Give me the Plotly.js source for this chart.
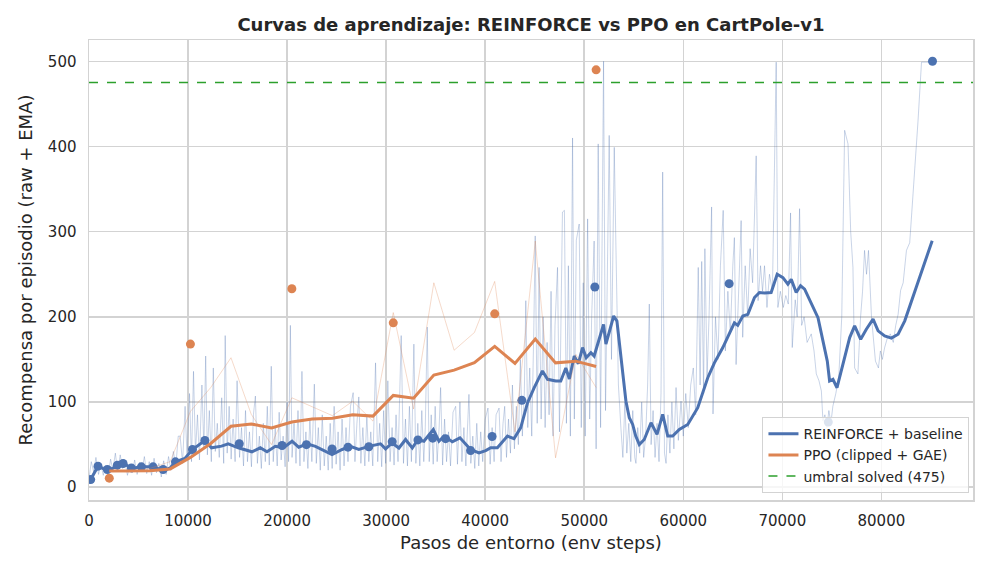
<!DOCTYPE html>
<html>
<head>
<meta charset="utf-8">
<script src="https://cdn.plot.ly/plotly-3.0.1.min.js"></script>
<style>
  body { margin: 0; background: #fff; }
  #chart { width: 990px; height: 572px; }
</style>
</head>
<body>
<div id="chart"></div>
<script>
// REINFORCE: recompensa por episodio (raw), [paso, recompensa]
var reinforceRaw = [
  [20,12],[230,30],[470,18],[700,35],[960,15],[1190,28],[1440,14],[1680,25],[1930,12],[2180,33],
  [2410,20],[2660,40],[2900,18],[3150,38],[3390,22],[3640,30],[3880,14],[4120,26],[4370,17],[4610,32],
  [4860,15],[5100,29],[5340,19],[5590,36],[5830,16],[6080,30],[6320,14],[6570,34],[6810,17],[7050,28],
  [7300,12],[7540,31],[7790,15],[8030,36],[8280,20],[8520,42],[8770,25],[9010,60],
  [9200,60],[9450,28],[9700,95],[9900,35],[10150,110],[10350,30],[10550,136],[10750,40],[10950,85],[11150,32],
  [11400,120],[11600,45],[11780,154],[11950,38],[12150,90],[12350,30],[12550,140],[12750,42],[12950,75],[13150,35],
  [13400,105],[13600,28],[13750,178],[13950,40],[14150,95],[14350,33],[14550,80],[14750,30],[14950,125],
  [15200,35],[15400,70],[15600,25],[15800,90],[16000,30],[16200,65],[16400,24],[16600,85],[16800,107],[17000,28],
  [17200,60],[17400,22],[17600,75],[17800,30],[18000,95],[18200,26],[18400,142],[18600,30],[18800,70],[19000,25],
  [19200,88],[19400,32],[19600,60],[19800,24],[20000,100],[20150,30],[20330,190],[20500,35],[20700,75],[20900,28],
  [21100,90],[21300,25],[21500,136],[21700,30],[21900,65],[22100,22],[22300,80],[22500,30],[22750,121],[22950,28],
  [23150,70],[23350,20],[23550,85],[23750,25],[23950,60],[24150,20],[24350,75],[24550,22],[24750,95],[24950,27],
  [25150,65],[25350,20],[25550,80],[25750,25],[25950,70],[26150,30],[26400,95],[26670,111],[26850,30],[27050,75],
  [27240,106],[27450,28],[27650,70],[27850,25],[28050,85],[28250,30],[28450,65],[28650,25],[28930,146],[29150,30],
  [29350,75],[29550,24],[29750,90],[29950,28],[30170,125],[30400,30],[30600,70],[30800,26],[31000,85],[31200,30],
  [31520,178],[31750,28],[31950,80],[32150,25],[32350,95],[32550,30],[32800,168],[33000,28],[33200,75],[33400,25],
  [33600,90],[33800,30],[33950,70],[34150,188],[34350,30],[34550,85],[34750,27],[34950,95],[35150,30],[35350,70],
  [35500,117],[35700,26],[35900,80],[36100,30],[36300,65],[36500,25],[36750,88],[37020,95],[37200,27],[37450,100],
  [37650,30],[37850,70],[38050,25],[38360,109],[38550,28],[38750,60],[38950,22],[39150,75],[39350,25],[39550,65],
  [39750,30],[40000,80],[40280,93],[40500,27],[40700,70],[40900,30],[41100,85],[41400,93],[41600,30],[41800,75],
  [41970,95],[42150,35],[42350,80],[42550,40],[42750,120],[42950,45],[43150,95],[43350,50],[43550,150],[43750,60],
  [43950,110],[44100,219],[44300,70],[44500,140],[44700,60],[44900,180],[45050,295],[45250,75],[45440,258],[45650,80],
  [45850,200],[46050,70],[46250,170],[46450,85],[46650,230],[46850,60],[47050,190],[47300,258],[47500,65],[47800,323],
  [48000,325],[48200,75],[48400,260],[48600,60],[48820,410],[49000,80],[49200,290],[49490,309],[49700,70],[49900,240],
  [50100,60],[50340,315],[50550,80],[50750,200],[51000,289],[51200,45],[51410,403],[51650,70],[51950,500],[52150,90],
  [52350,250],[52520,413],[52750,150],[53030,399],[53200,282],[53450,120],[53700,70],[53900,35],[54100,100],[54300,40],
  [54500,75],[54700,30],[54900,90],[55100,35],[55220,28],[55400,70],[55600,40],[55800,100],[56000,35],[56200,60],
  [56400,120],[56570,215],[56750,50],[56950,90],[57150,35],[57350,75],[57550,30],[57750,110],[57920,370],[58100,40],
  [58260,28],[58450,85],[58650,40],[58850,100],[59050,45],[59270,117],[59500,55],[59770,101],[60000,60],[60250,110],
  [60500,70],[60750,120],[61010,140],[61250,85],[61510,258],[61700,120],[61860,265],[62050,110],[62180,280],[62400,130],
  [62600,200],[62860,329],[63000,86],[63250,200],[63500,150],[63750,260],[64030,325],[64250,160],[64500,230],[64750,180],
  [65000,260],[65160,293],[65330,144],[65550,220],[65840,313],[66000,176],[66250,260],[66500,200],[66750,280],[67000,240],
  [67360,389],[67550,219],[67800,260],[68000,230],[68200,260],[68450,211],[68700,250],[69000,230],[69380,499],[69550,211],
  [69800,230],[70100,211],[70350,225],[70600,215],[70830,322],[71000,164],[71300,220],[71500,200],[71740,327],[71950,190],
  [72200,200],[72500,170],[72920,180],[73200,160],[73430,133],[73700,125],[73940,113],[74100,78],[74300,85],[74500,70],
  [74700,90],[74900,75],[75100,95],[75400,110],[75700,130],[76000,200],[76290,419],[76630,403],[76900,300],[77130,258],
  [77300,140],[77630,133],[77900,200],[78100,230],[78300,278],[78500,250],[78700,278],[79000,200],[79400,148],[79700,140],
  [79900,160],[80100,150],[80330,164],[80600,175],[80900,180],[81200,170],[81450,190],[81690,203],[81940,231],[82200,240],
  [82530,278],[82860,287],[83370,368],[83700,430],[84050,499],[85130,499]
];

// REINFORCE: media movil exponencial
var reinforceEma = [
  [170,9],[910,24.7],[1850,19.6],[2860,24.7],[3440,28.6],[4280,22],[5290,23.9],[6470,23.9],[7480,19.6],[8190,22.7],
  [8730,29.8],[9680,33.7],[10450,44.3],[11700,54.9],[12370,46.3],[13380,48.2],[14060,51],[14770,48],[15070,46.3],[16450,41.6],
  [17290,46.3],[17970,41.6],[18810,48],[19650,46.3],[20500,54],[21170,47],[22020,51],[22860,48],[23870,42.4],[24540,38.4],
  [25560,44.3],[26400,48],[27240,44.3],[28250,48],[29430,51],[29940,45],[30610,52],[31290,46],[31960,56],[32640,46],
  [33210,56],[33810,54],[34760,67.8],[35330,54],[35830,60],[36680,53.3],[37450,58],[38030,50],[38530,44.3],[39370,40.4],
  [40050,43],[40560,46.3],[41230,46.3],[42250,60],[42910,57],[43590,70],[44270,99],[44950,117],[45780,136.5],[46300,126.7],
  [47130,124.7],[47630,124.7],[48140,140],[48500,127],[48990,154],[49400,145],[49830,164],[50200,152],[50670,158],[51000,154],
  [51950,191],[52190,168],[52970,201],[53300,195],[53700,152],[54210,101],[54550,81.5],[54890,73.7],[55200,60],[55560,50],
  [56060,56],[56740,75.7],[57350,62],[57920,85.5],[58430,60],[58930,60],[59600,67.8],[60450,73.7],[61460,93.3],[62470,128.6],
  [63140,146],[63990,164],[65160,193],[65500,190],[66010,201],[66520,203],[67190,222.7],[67690,228.6],[68200,228],[68870,228.6],
  [69480,250],[70060,246],[70560,238.4],[70900,244],[71400,228.6],[71840,236.5],[72250,232.6],[72920,216.8],[73600,199],[74100,171.8],
  [74540,148],[74770,124.7],[75110,126.7],[75520,116.8],[76120,144],[76800,175.7],[77300,189.4],[77910,173.7],[78480,185.5],[79160,197.3],
  [79670,183.5],[80330,177.6],[81010,175],[81690,179.6],[82360,195.3],[83040,218.8],[84050,254],[85130,289.4]
];

// REINFORCE: evaluaciones
var reinforceEvalSteps = [170, 910, 1850, 2860, 3440, 4280, 5290, 6470, 7480, 8730, 10450, 11700, 15170, 19490, 21950,
  24540, 26150, 28250, 30610, 33210, 34700, 36000, 38530, 40700, 43700, 51070, 64630, 74640, 85160];
var reinforceEvalReward = [9, 24.7, 20.8, 25.9, 27.8, 22.7, 23.9, 23.9, 20.8, 29.8, 44.3, 54.9, 51, 49, 50,
  45, 47, 47.5, 53.5, 55.5, 57.6, 57, 43, 59.5, 102, 235, 239, 76.5, 500];

// PPO: una actualizacion cada 2048 pasos
var ppoSteps = [2048, 4096, 6144, 8192, 10240, 12288, 14336, 16384, 18432, 20480, 22528, 24576, 26624,
  28672, 30720, 32768, 34816, 36864, 38912, 40960, 43008, 45056, 47104, 49152, 51200];
var ppoRaw = [19, 18, 22, 30, 89, 117, 152, 85.5, 50, 105, 94.5, 84, 101,
  77.6, 205, 91.8, 240, 160.8, 181.6, 241.6, 65, 289, 34.5, 156, 117];
var ppoEma = [19, 18.8, 19.4, 21.5, 35, 51.4, 71.5, 74.3, 69.5, 76.6, 80.2, 81, 85,
  83.5, 107.8, 104.6, 131.7, 137.5, 146.3, 165.4, 145.3, 174, 146, 148, 141.8];

var ppoEvalSteps = [2048, 10240, 20480, 30720, 40960, 51200];
var ppoEvalReward = [10.6, 168, 233, 193, 203.5, 490];

var SOLVED = 475;
var XMAX = 89250;

var BLUE = "#4C72B0";
var ORANGE = "#DD8452";
var GREEN = "#2ca02c";
var GRID = "#d3d3d3";
var FONT = "DejaVu Sans, sans-serif";

var traces = [
  {
    x: reinforceRaw.map(function(p){ return p[0]; }),
    y: reinforceRaw.map(function(p){ return p[1]; }),
    type: "scatter", mode: "lines",
    line: {color: BLUE, width: 1},
    opacity: 0.3,
    showlegend: false, hoverinfo: "skip"
  },
  {
    x: reinforceEma.map(function(p){ return p[0]; }),
    y: reinforceEma.map(function(p){ return p[1]; }),
    type: "scatter", mode: "lines",
    line: {color: BLUE, width: 3},
    name: "REINFORCE + baseline"
  },
  {
    x: reinforceEvalSteps, y: reinforceEvalReward,
    type: "scatter", mode: "markers",
    marker: {color: BLUE, size: 9},
    showlegend: false
  },
  {
    x: ppoSteps, y: ppoRaw,
    type: "scatter", mode: "lines",
    line: {color: ORANGE, width: 1},
    opacity: 0.3,
    showlegend: false, hoverinfo: "skip"
  },
  {
    x: ppoSteps, y: ppoEma,
    type: "scatter", mode: "lines",
    line: {color: ORANGE, width: 3},
    name: "PPO (clipped + GAE)"
  },
  {
    x: ppoEvalSteps, y: ppoEvalReward,
    type: "scatter", mode: "markers",
    marker: {color: ORANGE, size: 9},
    showlegend: false
  },
  {
    x: [0, XMAX], y: [SOLVED, SOLVED],
    type: "scatter", mode: "lines",
    line: {color: GREEN, width: 1.5, dash: "dash"},
    name: "umbral solved (475)"
  }
];

var layout = {
  width: 990,
  height: 572,
  paper_bgcolor: "#ffffff",
  plot_bgcolor: "#ffffff",
  font: {family: FONT, size: 14, color: "#262626"},
  margin: {l: 89, r: 17, t: 40, b: 72},
  title: {
    text: "Curvas de aprendizaje: REINFORCE vs PPO en CartPole-v1",
    font: {family: FONT, size: 18, weight: "bold", color: "#262626"},
    xref: "paper", x: 0.5, xanchor: "center",
    yref: "container", y: 0.956, yanchor: "middle"
  },
  xaxis: {
    range: [0, XMAX],
    dtick: 10000,
    tickformat: "d",
    showgrid: true, gridcolor: GRID, gridwidth: 1.5,
    zeroline: false,
    showline: true, linecolor: GRID, linewidth: 1.5, mirror: true,
    ticks: "", ticklabelstandoff: 6,
    tickfont: {size: 15},
    title: {text: "Pasos de entorno (env steps)", font: {size: 18}, standoff: 8}
  },
  yaxis: {
    range: [-15, 525],
    dtick: 100,
    showgrid: true, gridcolor: GRID, gridwidth: 1.5,
    zeroline: true, zerolinecolor: GRID, zerolinewidth: 1.5,
    showline: true, linecolor: GRID, linewidth: 1.5, mirror: true,
    ticks: "", ticklabelstandoff: 8,
    tickfont: {size: 15},
    title: {text: "Recompensa por episodio (raw + EMA)", font: {size: 18}, standoff: 10}
  },
  legend: {
    x: 0.996, y: 0.015, xanchor: "right", yanchor: "bottom",
    bgcolor: "rgba(255,255,255,0.8)",
    bordercolor: GRID, borderwidth: 1,
    font: {size: 14},
    tracegroupgap: 0
  },
  showlegend: true
};

Plotly.newPlot("chart", traces, layout, {displayModeBar: false, staticPlot: true});
</script>
</body>
</html>
